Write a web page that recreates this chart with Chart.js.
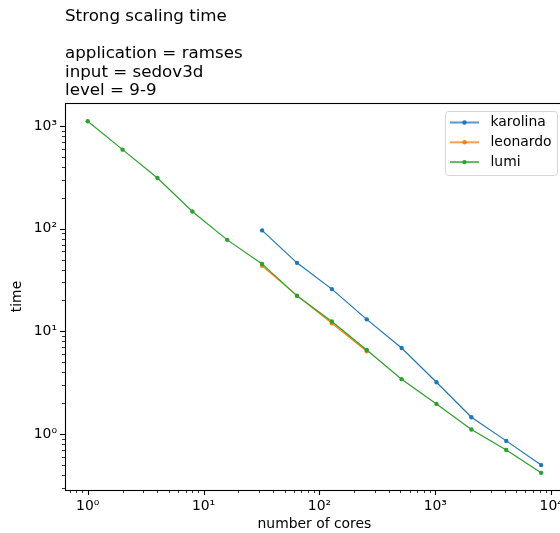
<!DOCTYPE html>
<html>
<head>
<meta charset="utf-8">
<title>Strong scaling time</title>
<script src="https://cdn.jsdelivr.net/npm/chart.js@4/dist/chart.umd.min.js"></script>
<style>
  html, body { margin: 0; padding: 0; background: #fff; overflow: hidden; }
  #wrap { width: 566px; height: 533px; }
</style>
</head>
<body>
<div id="wrap"><canvas id="myChart" width="566" height="533"></canvas></div>
<script>
// Run times per machine (seconds) vs. number of cores
const karolinaCores = [32, 64, 128, 256, 512, 1024, 2048, 4096, 8192];
const karolinaTime = [96.2, 46.5, 25.8, 13.1, 6.9, 3.2, 1.46, 0.86, 0.50];

const leonardoCores = [32, 64, 128, 256];
const leonardoTime = [43.5, 22.3, 12.0, 6.4];

const lumiCores = [1, 2, 4, 8, 16, 32, 64, 128, 256, 512, 1024, 2048, 4096, 8192];
const lumiTime = [1109, 588, 311, 147, 77.8, 45.4, 22.2, 12.5, 6.6, 3.43, 1.97, 1.11, 0.70, 0.42];

const seriesNames = ['karolina', 'leonardo', 'lumi'];
const seriesColors = ['#1f77b4', '#ff7f0e', '#2ca02c'];

// decade exponents that get a labelled tick
const xTickPowers = [0, 1, 2, 3, 4];
const yTickPowers = [0, 1, 2, 3];

const titleLines = ['Strong scaling time', '', 'application = ramses', 'input = sedov3d', 'level = 9-9'];

const FONT = '"DejaVu Sans", sans-serif';
const sup = { '0': '\u2070', '1': '\u00B9', '2': '\u00B2', '3': '\u00B3', '4': '\u2074' };
const powLabel = (v) => '10' + String(Math.round(Math.log10(v))).split('').map((c) => sup[c] || c).join('');

const toPoints = (xs, ys) => xs.map((x, i) => ({ x: x, y: ys[i] }));

// frame, log ticks, title block and legend
const decorations = {
  id: 'decorations',
  afterDraw(chart) {
    const { ctx, chartArea: a, scales } = chart;
    ctx.save();
    ctx.strokeStyle = '#000';

    const tickValues = (scale) => {
      const out = [];
      const lo = Math.floor(Math.log10(scale.min));
      const hi = Math.ceil(Math.log10(scale.max));
      for (let d = lo; d <= hi; d++) {
        for (let m = 1; m <= 9; m++) {
          const v = m * Math.pow(10, d);
          if (v >= scale.min && v <= scale.max) out.push({ v: v, major: m === 1 });
        }
      }
      return out;
    };

    tickValues(scales.x).forEach((t) => {
      const px = Math.round(scales.x.getPixelForValue(t.v)) + 0.5;
      ctx.lineWidth = t.major ? 1.1 : 0.8;
      ctx.beginPath();
      ctx.moveTo(px, a.bottom);
      ctx.lineTo(px, a.bottom + (t.major ? 5 : 3));
      ctx.stroke();
    });
    tickValues(scales.y).forEach((t) => {
      const py = Math.round(scales.y.getPixelForValue(t.v)) + 0.5;
      ctx.lineWidth = t.major ? 1.1 : 0.8;
      ctx.beginPath();
      ctx.moveTo(a.left, py);
      ctx.lineTo(a.left - (t.major ? 5 : 3), py);
      ctx.stroke();
    });

    ctx.lineWidth = 1.1;
    ctx.strokeRect(Math.round(a.left) + 0.5, Math.round(a.top) + 0.5,
      Math.round(a.right - a.left), Math.round(a.bottom - a.top));

    // title block
    ctx.fillStyle = '#000';
    ctx.font = '16.7px ' + FONT;
    ctx.textAlign = 'left';
    ctx.textBaseline = 'alphabetic';
    titleLines.forEach((line, i) => {
      ctx.fillText(line, 65, 21 + i * 18.5);
    });

    // legend
    const lx = 445, ly = 111, lw = 112, lh = 64;
    ctx.beginPath();
    ctx.roundRect(lx + 0.5, ly + 0.5, lw, lh, 3);
    ctx.fillStyle = 'rgba(255,255,255,0.8)';
    ctx.fill();
    ctx.strokeStyle = '#d6d6d6';
    ctx.lineWidth = 1;
    ctx.stroke();

    ctx.font = '13.9px ' + FONT;
    ctx.textBaseline = 'middle';
    chart.data.datasets.forEach((ds, i) => {
      const yy = 122.5 + i * 19.8;
      ctx.globalAlpha = 0.75;
      ctx.strokeStyle = ds.borderColor;
      ctx.lineWidth = 2;
      ctx.beginPath();
      ctx.moveTo(450, yy);
      ctx.lineTo(479, yy);
      ctx.stroke();
      ctx.globalAlpha = 1;
      ctx.fillStyle = ds.borderColor;
      ctx.beginPath();
      ctx.arc(464.5, yy, 2.2, 0, Math.PI * 2);
      ctx.fill();
      ctx.fillStyle = '#000';
      ctx.fillText(ds.label, 490.5, yy);
    });
    ctx.restore();
  }
};

const ctx = document.getElementById('myChart').getContext('2d');

Chart.defaults.font.family = FONT;
Chart.defaults.font.size = 13.9;
Chart.defaults.color = '#000';

const seriesData = [
  toPoints(karolinaCores, karolinaTime),
  toPoints(leonardoCores, leonardoTime),
  toPoints(lumiCores, lumiTime),
];

const scalingChart = new Chart(ctx, {
  type: 'line',
  data: {
    datasets: seriesNames.map((name, i) => ({
      label: name,
      data: seriesData[i],
      borderColor: seriesColors[i],
      backgroundColor: seriesColors[i],
      borderWidth: 1.2,
      pointRadius: 2.2,
      pointBorderWidth: 0,
      pointHoverRadius: 2.2,
      tension: 0,
      fill: false,
      order: 2 - i,
    })),
  },
  options: {
    responsive: false,
    animation: false,
    events: [],
    layout: { padding: { top: 103, right: 2, left: 0, bottom: 0 } },
    plugins: {
      legend: { display: false },
      tooltip: { enabled: false },
      title: { display: false },
    },
    scales: {
      x: {
        type: 'logarithmic',
        min: 0.637,
        max: 12850,
        bounds: 'data',
        grid: { display: false, drawTicks: false },
        border: { display: false },
        afterBuildTicks: (scale) => {
          scale.ticks = xTickPowers.map((p) => ({ value: Math.pow(10, p) }));
        },
        afterFit: (scale) => {
          scale.height = 43;
          scale.paddingLeft = 0;
          scale.paddingRight = 0;
        },
        ticks: {
          padding: 8,
          autoSkip: false,
          maxRotation: 0,
          callback: (v) => powLabel(v),
        },
        title: {
          display: true,
          text: 'number of cores',
          padding: { top: 0, bottom: 0 },
        },
      },
      y: {
        type: 'logarithmic',
        min: 0.286,
        max: 1672,
        bounds: 'data',
        grid: { display: false, drawTicks: false },
        border: { display: false },
        afterBuildTicks: (scale) => {
          scale.ticks = yTickPowers.map((p) => ({ value: Math.pow(10, p) }));
        },
        afterFit: (scale) => {
          scale.width = 65;
          scale.paddingTop = 0;
          scale.paddingBottom = 0;
        },
        ticks: {
          padding: 8,
          autoSkip: false,
          callback: (v) => powLabel(v),
        },
        title: {
          display: true,
          text: 'time',
          padding: { top: 9, bottom: 0 },
        },
      },
    },
  },
  plugins: [decorations],
});
</script>
</body>
</html>
